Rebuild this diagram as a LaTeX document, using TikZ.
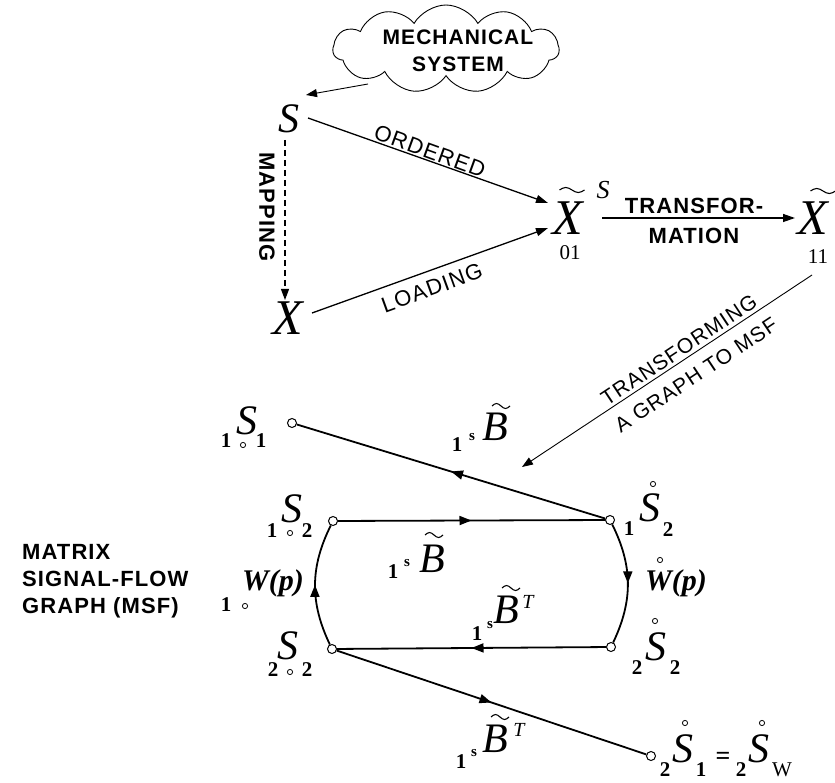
\documentclass[tikz,border=0pt]{standalone}
\usepackage{fontspec}
\setmainfont{Liberation Serif}
\newfontfamily\sanslab[LetterSpace=5]{Liberation Sans}
\usetikzlibrary{arrows.meta,shapes.symbols,decorations.markings}
\newcommand\tld[3]{\draw[line width=1.1pt] ({#1-#3/2},#2) sin ({#1-#3/4},{#2-2.5}) cos (#1,#2) sin ({#1+#3/4},{#2+2.5}) cos ({#1+#3/2},#2);}
\newcommand\rng[2]{\draw[line width=0.8pt] (#1,#2) circle[radius=2.6pt];}
\begin{document}
\begin{tikzpicture}[x=1pt,y=-1pt,
  lbl/.style={font=\sanslab\fontsize{22}{27}\selectfont\bfseries, align=center, inner sep=0},
  lblr/.style={font=\sanslab\fontsize{22}{24}\selectfont, align=center, inner sep=0},
  bigX/.style={font=\fontsize{50}{50}\selectfont\itshape, inner sep=0},
  bigS/.style={font=\fontsize{42}{42}\selectfont\itshape, inner sep=0},
  supS/.style={font=\fontsize{26}{26}\selectfont\itshape, inner sep=0},
  dig/.style={font=\fontsize{21}{21}\selectfont\bfseries, inner sep=0},
  num/.style={font=\fontsize{21}{21}\selectfont, inner sep=0},
  sml/.style={font=\fontsize{15}{15}\selectfont\bfseries, inner sep=0},
  wp/.style={font=\fontsize{30}{30}\selectfont\bfseries\itshape, inner sep=0},
  tsup/.style={font=\fontsize{20}{20}\selectfont\itshape, inner sep=0},
  arr/.style={line width=1.3pt, -{Triangle[length=12pt,width=8pt]}},
  thinarr/.style={line width=0.9pt, -{Triangle[length=11pt,width=8pt]}},
  vnode/.style={circle, draw, line width=1pt, fill=white, minimum size=9pt, inner sep=0},
  edge/.style={line width=1.8pt},
  midarrow/.style={edge, postaction={decorate}, decoration={markings, mark=at position 0.5 with {\arrow{Triangle[length=12pt,width=9pt]}}}}
]
\useasboundingbox (0,0) rectangle (835,783);
% ---------- top part ----------
\node[cloud, draw, line width=0.9pt, cloud puffs=11, cloud puff arc=120, aspect=2.6,
      minimum width=226pt, minimum height=88pt, inner sep=0] (cloud) at (446,49) {};
\node[lbl, font=\sanslab\fontsize{21}{27}\selectfont\bfseries] (mech) at (458,51) {MECHANICAL\\SYSTEM};

\node[bigS] (S) at (289,119) {S};
\node[bigX] (X) at (288,318) {X};

\coordinate (cloudout) at (368,84);
\coordinate (Sin) at (306,95);
\draw[thinarr] (cloudout) -- (Sin);

\coordinate (Sbot) at (285,140);
\coordinate (Xtop) at (285,300);
\draw[line width=1.1pt, dash pattern=on 6pt off 4pt, -{Triangle[length=11pt,width=8pt]}] (Sbot) -- (Xtop);
\node[lbl, rotate=-90] (mapping) at (267,207) {MAPPING};

% X01
\node[bigX] (X01) at (568,218) {X};
\tld{572}{190}{25}
\node[supS] (X01s) at (603,190) {S};
\node[num] (X01n) at (570,253) {01};
\coordinate (Sout) at (308,118);
\coordinate (X01a) at (548,203);
\coordinate (Xout) at (312,313);
\coordinate (X01b) at (548,228);
\draw[arr] (Sout) -- (X01a);
\draw[arr] (Xout) -- (X01b);
\node[lblr, rotate=-20] (ordered) at (430,151) {ORDERED};
\node[lblr, rotate=20] (loading) at (432,288) {LOADING};

% X11
\node[bigX] (X11) at (813,218) {X};
\tld{823}{191}{25}
\node[num] (X11n) at (818,257) {11};
\coordinate (X01out) at (602,218);
\coordinate (X11in) at (795,218);
\draw[arr] (X01out) -- (X11in);
\node[lbl] (transfor) at (694,206) {TRANSFOR-};
\node[lbl] (mation) at (694,236) {MATION};

\coordinate (X11out) at (812,275);
\coordinate (msfin) at (522,467);
\draw[thinarr] (X11out) -- (msfin);
\node[lblr, font=\sanslab\fontsize{21}{24}\selectfont, rotate=33.5] (transforming) at (679,350) {TRANSFORMING};
\node[lblr, font=\sanslab\fontsize{21}{24}\selectfont, rotate=33.5] (agraph) at (696,375) {A GRAPH TO MSF};

% ---------- MSF ----------
\node[lbl, align=left, anchor=west] (matrix) at (22,581) {MATRIX\\SIGNAL-FLOW\\GRAPH (MSF)};

\node[vnode] (a) at (292,423) {};
\node[vnode] (b) at (610,520) {};
\node[vnode] (c) at (333,521) {};
\node[vnode] (d) at (332,649) {};
\node[vnode] (e) at (611,647) {};
\node[vnode] (f) at (651,756) {};

\draw[midarrow] (b) -- (a);
\draw[midarrow] (c) -- (b);
\draw[midarrow] (e) -- (d);
\draw[midarrow] (d) -- (f);
\draw[midarrow] (d) to[bend left=26] (c);
\draw[midarrow] (b) to[bend left=26] (e);

% labels of vertices
\node[dig] (a1) at (226,441) {1};
\node[bigS] (aS) at (247,421) {S};
\node[dig] (a2) at (261,441) {1};
\rng{243}{445}

\node[dig] (c1) at (272,531) {1};
\node[bigS] (cS) at (292,509) {S};
\node[dig] (c2) at (307,531) {2};
\rng{290}{533}

\node[dig] (d1) at (273,670) {2};
\node[bigS] (dS) at (288,646) {S};
\node[dig] (d2) at (307,670) {2};
\rng{290}{672}

\node[dig] (w1) at (226,605) {1};
\node[wp] (wL) at (273,583) {W(p)};
\rng{245}{606}

\node[dig] (b1) at (629,529) {1};
\node[bigS] (bS) at (650,508) {S};
\node[dig] (b2) at (668,530) {2};
\rng{653}{484}

\node[wp] (wR) at (676,583) {W(p)};
\rng{660}{560}

\node[dig] (e1) at (637,668) {2};
\node[bigS] (eS) at (656,647) {S};
\node[dig] (e2) at (675,668) {2};
\rng{655}{621}

\node[dig] (f1) at (665,770) {2};
\node[bigS] (fS) at (683,749) {S};
\node[dig] (f2) at (701,770) {1};
\rng{685}{723}
\node[dig, font=\fontsize{26}{26}\selectfont\bfseries] (eq) at (723,758) {=};
\node[dig] (g1) at (741,770) {2};
\node[bigS] (gS) at (759,749) {S};
\node[num] (g2) at (782,770) {W};
\rng{762}{723}

% edge labels
\node[dig] (l1a) at (457,445) {1};
\node[sml] (l1b) at (472,437) {s};
\node[bigS] (l1c) at (495,427) {B};
\tld{501}{406}{18}

\node[dig] (l2a) at (393,572) {1};
\node[sml] (l2b) at (407,563) {s};
\node[bigS] (l2c) at (432,559) {B};
\tld{434}{535}{18}

\node[dig] (l3a) at (477,634) {1};
\node[sml] (l3b) at (490,625) {s};
\node[bigS] (l3c) at (506,610) {B};
\tld{511}{588}{18}
\node[tsup] (l3d) at (528,602) {T};

\node[dig] (l4a) at (461,762) {1};
\node[sml] (l4b) at (474,753) {s};
\node[bigS] (l4c) at (495,739) {B};
\tld{500}{717}{18}
\node[tsup] (l4d) at (519,730) {T};
\end{tikzpicture}
\end{document}
